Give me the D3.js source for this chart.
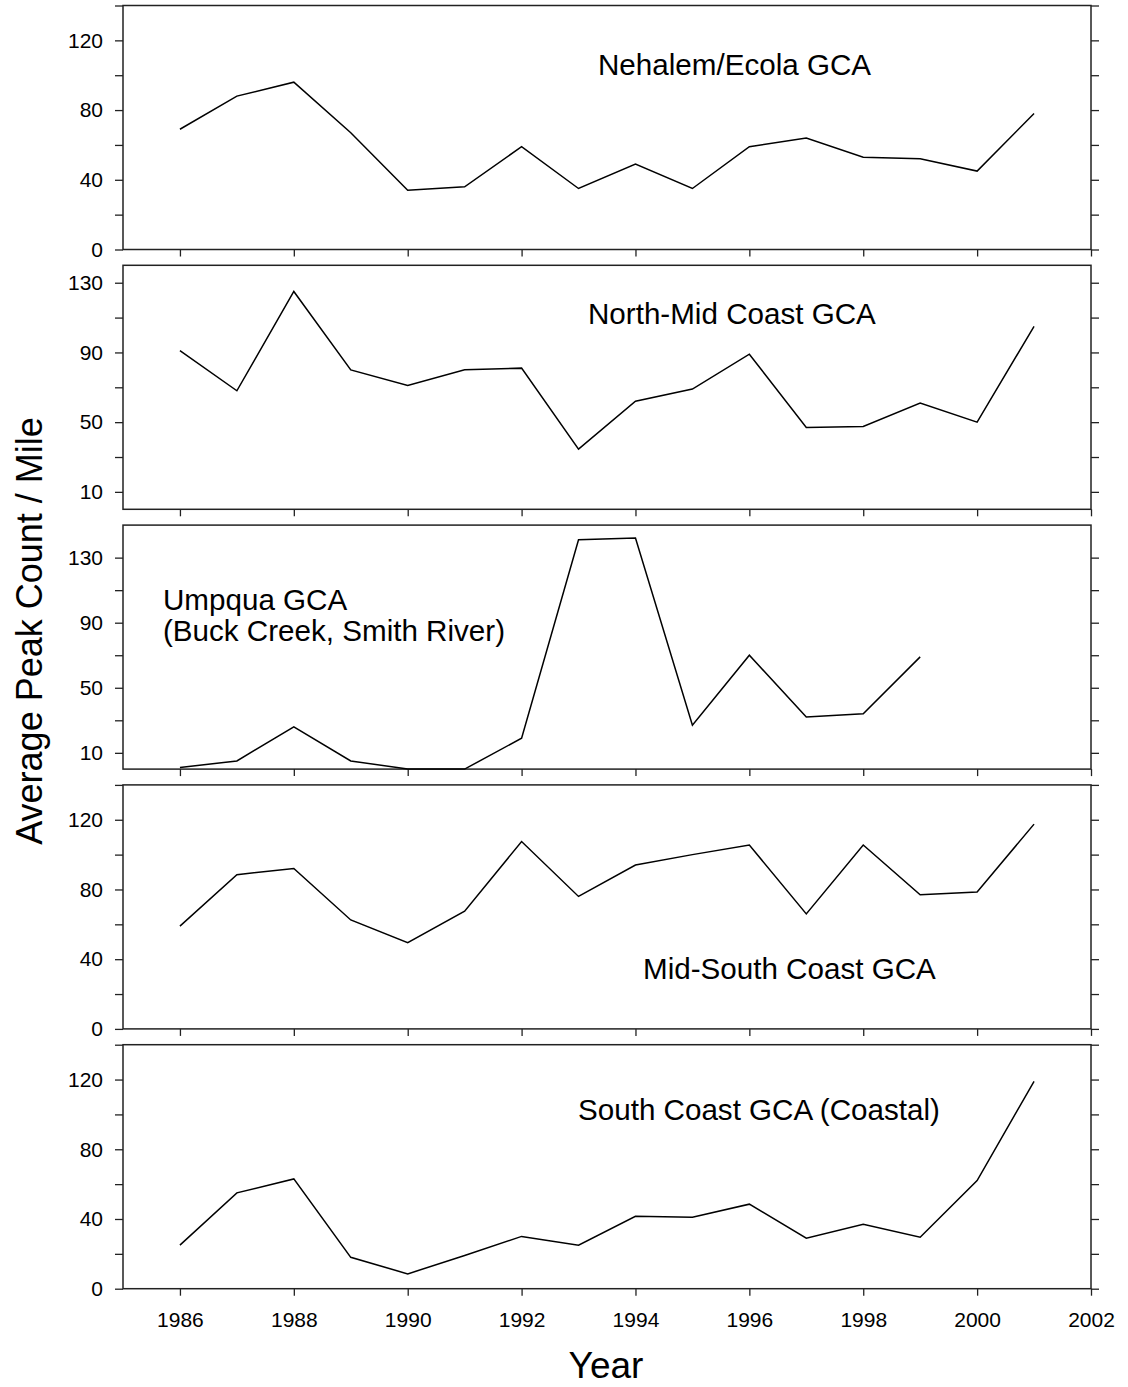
<!DOCTYPE html>
<html>
<head>
<meta charset="utf-8">
<script src="https://cdn.jsdelivr.net/npm/d3@7"></script>
<style>
  html, body { margin: 0; padding: 0; background: #fff; }
  svg { display: block; font-family: "Liberation Sans", Arial, sans-serif; }
</style>
</head>
<body>
<svg id="chart" width="1128" height="1387"></svg>
<script>
// Survey years
const years = [1986, 1987, 1988, 1989, 1990, 1991, 1992, 1993, 1994, 1995, 1996, 1997, 1998, 1999, 2000, 2001];

// Average peak count per mile, one series per GCA
const nehalemEcola   = [69, 88, 96, 67, 34, 36, 59, 35, 49, 35, 59, 64, 53, 52, 45, 78];
const northMidCoast  = [91, 68, 125, 80, 71, 80, 81, 34.5, 62, 69, 89, 47, 47.5, 61, 50, 105];
const umpqua         = [1, 5, 26, 5, 0, 0, 19, 141, 142, 27, 70, 32, 34, 69, null, null];
const midSouthCoast  = [59, 88.5, 92, 62.5, 49.5, 67.5, 107.5, 76, 94, 100, 105.5, 66, 105.5, 77, 78.5, 117.5];
const southCoast     = [25, 55, 63, 18, 8.5, 19, 30, 25, 41.5, 41, 48.5, 29, 37, 29.5, 62, 119];

// Panel titles
const titles = [
  ["Nehalem/Ecola GCA"],
  ["North-Mid Coast GCA"],
  ["Umpqua GCA", "(Buck Creek, Smith River)"],
  ["Mid-South Coast GCA"],
  ["South Coast GCA (Coastal)"]
];

// Y-axis tick values per panel
const yMajorA = [0, 40, 80, 120];
const yMinorA = [20, 60, 100, 140];
const yMajorB = [10, 50, 90, 130];
const yMinorB = [30, 70, 110];

// X-axis tick years
const xTicks = [1986, 1988, 1990, 1992, 1994, 1996, 1998, 2000, 2002];

const series = [nehalemEcola, northMidCoast, umpqua, midSouthCoast, southCoast];
const yMax   = [140, 140, 150, 140, 140];
const yMajor = [yMajorA, yMajorB, yMajorB, yMajorA, yMajorA];
const yMinor = [yMinorA, yMinorB, yMinorB, yMinorA, yMinorA];

// Layout
const left = 123, right = 1091;
const panelTop0 = 5.5, panelStep = 259.8, panelH = 244;
const titlePos = [
  [{x: 598, y: 75}],
  [{x: 588, y: 324}],
  [{x: 163, y: 610}, {x: 163, y: 641}],
  [{x: 643, y: 979}],
  [{x: 578, y: 1120}]
];

const svg = d3.select("#chart");
const x = d3.scaleLinear().domain([1985, 2002]).range([left, right]);
const axisColor = "#222";

series.forEach((vals, i) => {
  const top = panelTop0 + i * panelStep;
  const bottom = top + panelH;
  const y = d3.scaleLinear().domain([0, yMax[i]]).range([bottom, top]);
  const g = svg.append("g");

  const allY = yMajor[i].concat(yMinor[i]).sort((a, b) => a - b);
  const majorSet = new Set(yMajor[i]);

  // Left axis
  const la = g.append("g").attr("transform", `translate(${left},0)`)
    .call(d3.axisLeft(y).tickValues(allY).tickSize(8).tickSizeOuter(0).tickPadding(12)
      .tickFormat(d => majorSet.has(d) ? d : ""));
  // Right axis
  const ra = g.append("g").attr("transform", `translate(${right},0)`)
    .call(d3.axisRight(y).tickValues(allY).tickSize(8).tickSizeOuter(0).tickFormat(""));
  // Bottom axis
  const ba = g.append("g").attr("transform", `translate(0,${bottom})`)
    .call(d3.axisBottom(x).tickValues(xTicks).tickSize(7).tickSizeOuter(0).tickPadding(16)
      .tickFormat(i === series.length - 1 ? d3.format("d") : () => ""));

  [la, ra, ba].forEach(a => {
    a.select(".domain").remove();
    a.selectAll(".tick line").attr("stroke", axisColor).attr("stroke-width", 1.3);
    a.selectAll(".tick text").attr("fill", "#000").style("font-size", "21px")
      .style("font-family", "\"Liberation Sans\", Arial, sans-serif");
  });

  // Frame
  g.append("rect")
    .attr("x", left).attr("y", top)
    .attr("width", right - left).attr("height", bottom - top)
    .attr("fill", "none").attr("stroke", axisColor).attr("stroke-width", 1.5);

  // Data line
  const line = d3.line()
    .defined(d => d[1] != null)
    .x(d => x(d[0]))
    .y(d => y(d[1]));
  g.append("path")
    .datum(years.map((yr, k) => [yr, vals[k]]))
    .attr("d", line)
    .attr("fill", "none")
    .attr("stroke", "#000")
    .attr("stroke-width", 1.5)
    .attr("stroke-linejoin", "miter");

  // Panel title
  titles[i].forEach((t, k) => {
    g.append("text")
      .attr("x", titlePos[i][k].x)
      .attr("y", titlePos[i][k].y)
      .style("font-size", "29.6px")
      .attr("fill", "#000")
      .text(t);
  });
});

// Axis titles
svg.append("text")
  .attr("transform", "translate(42,631) rotate(-90)")
  .attr("text-anchor", "middle")
  .style("font-size", "36px")
  .attr("fill", "#000")
  .text("Average Peak Count / Mile");

svg.append("text")
  .attr("x", 606)
  .attr("y", 1378)
  .attr("text-anchor", "middle")
  .style("font-size", "37px")
  .attr("fill", "#000")
  .text("Year");
</script>
</body>
</html>
